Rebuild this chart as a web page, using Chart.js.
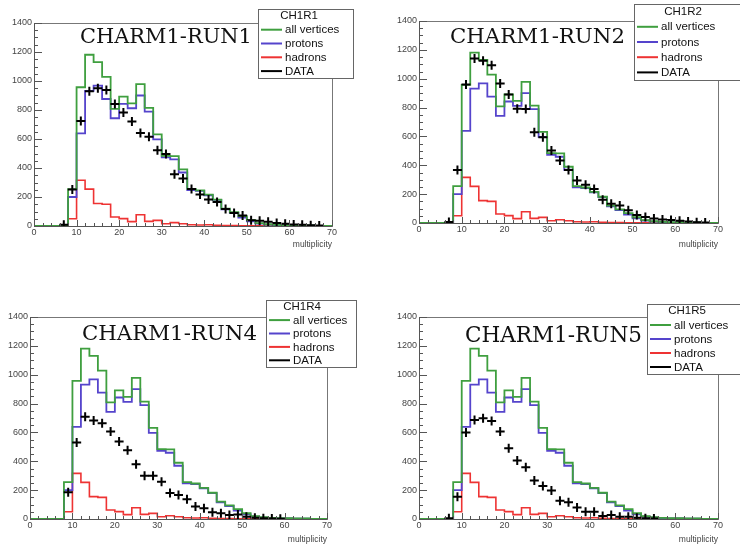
<!DOCTYPE html>
<html>
<head>
<meta charset="utf-8">
<script src="https://cdn.jsdelivr.net/npm/chart.js@4.4.0/dist/chart.umd.min.js"></script>
<style>
  body { margin: 0; background: #fff; }
  #page { position: relative; width: 740px; height: 545px; overflow: hidden; background: #fff; }
  canvas { position: absolute; }
</style>
</head>
<body>
<div id="page">
  <canvas id="c1" width="370" height="250" style="left:0;top:0"></canvas>
  <canvas id="c2" width="370" height="250" style="left:370px;top:0"></canvas>
  <canvas id="c3" width="370" height="250" style="left:0;top:295px"></canvas>
  <canvas id="c4" width="370" height="250" style="left:370px;top:295px"></canvas>
</div>
<script>
// lower edges of the multiplicity bins (width 2)
const binLow = [0, 2, 4, 6, 8, 10, 12, 14, 16, 18, 20, 22, 24, 26, 28, 30, 32, 34,
  36, 38, 40, 42, 44, 46, 48, 50, 52, 54, 56, 58, 60, 62, 64, 66, 68];
const binWidth = 2;

// simulation (same in every panel)
const allVertices = [0, 0, 0, 0, 255, 957, 1181, 1130, 1028, 808, 892, 846, 978, 814, 632, 484, 482, 390,
  256, 246, 216, 182, 120, 95, 68, 40, 20, 12, 8, 6, 6, 4, 4, 0, 0];
const protons = [0, 0, 0, 0, 200, 639, 932, 968, 876, 743, 842, 812, 900, 789, 597, 473, 459, 369,
  247, 242, 212, 180, 115, 90, 58, 32, 16, 10, 6, 4, 4, 3, 3, 0, 0];
const hadrons = [0, 0, 0, 0, 50, 316, 254, 155, 150, 62, 51, 30, 78, 32, 39, 16, 23, 16,
  9, 7, 9, 5, 3, 3, 2, 1, 1, 0, 0, 0, 0, 0, 0, 0, 0];

// measured data per run
const dataRun1 = [null, null, null, 8, 252, 725, 930, 950, 938, 842, 782, 720, 642, 615, 522, 497, 357, 328,
  256, 218, 182, 166, 118, 90, 72, 40, 36, 30, 20, 15, 11, 8, 5, 3, null];
const dataRun2 = [null, null, null, 7, 368, 960, 1140, 1124, 1094, 967, 891, 792, 790, 629, 594, 502, 433, 368,
  295, 265, 235, 161, 134, 122, 88, 55, 41, 32, 25, 20, 15, 10, 6, 3, null];
const dataRun4 = [null, null, null, null, 185, 530, 708, 683, 664, 606, 537, 477, 380, 299, 299, 259, 180, 167,
  137, 86, 74, 46, 39, 28, 32, 16, 9, 5, 3, 2, null, null, null, null, null];
const dataRun5 = [null, null, null, 5, 155, 599, 687, 699, 680, 606, 491, 405, 359, 266, 229, 197, 127, 116,
  79, 51, 51, 21, 28, 16, 16, 9, 5, 3, null, null, null, null, null, null, null];

const xTicks = [0, 10, 20, 30, 40, 50, 60, 70];
const yTicks = [0, 200, 400, 600, 800, 1000, 1200, 1400];
const legendLabels = ["all vertices", "protons", "hadrons", "DATA"];

const COL_ALL = "#3f9f3f";
const COL_PROT = "#5544cc";
const COL_HAD = "#ee3333";
const COL_DATA = "#000000";
const legendColors = [COL_ALL, COL_PROT, COL_HAD, COL_DATA];

function stepPoints(vals) {
  const pts = binLow.map((x, i) => ({ x: x, y: vals[i] }));
  pts.push({ x: binLow[binLow.length - 1] + binWidth, y: 0 });
  return pts;
}
function dataPoints(vals) {
  const pts = [];
  vals.forEach((v, i) => { if (v !== null) pts.push({ x: binLow[i] + binWidth / 2, y: v }); });
  return pts;
}

// ROOT-like frame, inward ticks, big title and boxed legend
const rootStyle = {
  id: "rootStyle",
  afterDraw(chart, args, opts) {
    const ctx = chart.ctx;
    const a = chart.chartArea;
    const xs = chart.scales.x, ys = chart.scales.y;
    ctx.save();
    // frame
    ctx.strokeStyle = "#777";
    ctx.lineWidth = 1;
    ctx.strokeRect(a.left + 0.5, a.top + 0.5, a.right - a.left, a.bottom - a.top);
    // axis lines
    ctx.strokeStyle = "#555";
    ctx.beginPath();
    ctx.moveTo(a.left + 0.5, a.top); ctx.lineTo(a.left + 0.5, a.bottom + 0.5);
    ctx.lineTo(a.right, a.bottom + 0.5);
    ctx.stroke();
    // ticks
    ctx.beginPath();
    for (let v = 0; v <= 70; v += 2) {
      const px = Math.round(xs.getPixelForValue(v)) + 0.5;
      const len = v % 10 === 0 ? 6 : 3;
      ctx.moveTo(px, a.bottom); ctx.lineTo(px, a.bottom - len);
    }
    for (let v = 0; v <= 1400; v += 50) {
      const py = Math.round(ys.getPixelForValue(v)) + 0.5;
      const len = v % 200 === 0 ? 8 : 4;
      ctx.moveTo(a.left, py); ctx.lineTo(a.left + len, py);
    }
    ctx.stroke();

    // title
    ctx.font = "20px 'DejaVu Serif'";
    const w = ctx.measureText(opts.title).width;
    const fs = 20 * opts.titleW / w;
    ctx.font = fs.toFixed(2) + "px 'DejaVu Serif'";
    ctx.fillStyle = "#111";
    ctx.textAlign = "left";
    ctx.textBaseline = "alphabetic";
    ctx.fillText(opts.title, opts.titleX, opts.titleY);

    // legend box
    const b = opts.box;
    ctx.fillStyle = "#fff";
    ctx.fillRect(b.x, b.y, b.w, b.h);
    ctx.strokeStyle = "#666";
    ctx.strokeRect(b.x + 0.5, b.y + 0.5, b.w, b.h);
    const rowH = b.h / 5;
    ctx.font = "11.5px 'Liberation Sans', Arial, sans-serif";
    ctx.fillStyle = "#111";
    ctx.textBaseline = "middle";
    ctx.textAlign = "center";
    ctx.fillText(opts.header, b.x + opts.headerDx, b.y + rowH * 0.5);
    ctx.textAlign = "left";
    legendLabels.forEach((lab, k) => {
      const cy = b.y + rowH * (k + 1.5);
      ctx.strokeStyle = legendColors[k];
      ctx.lineWidth = 2;
      ctx.beginPath();
      ctx.moveTo(b.x + 3, cy); ctx.lineTo(b.x + 24, cy);
      ctx.stroke();
      ctx.fillText(lab, b.x + 27, cy + 0.5);
    });
    ctx.restore();
  }
};

const tickFont = { family: "'Liberation Sans', Arial, sans-serif", size: 9 };

function makePanel(p) {
  const canvas = document.getElementById(p.id);
  return new Chart(canvas, {
    type: "line",
    data: {
      datasets: [
        { label: "DATA", type: "scatter", data: dataPoints(p.data), showLine: false,
          pointStyle: "cross", pointRadius: 4.5, borderColor: COL_DATA, borderWidth: 2, order: 0 },
        { label: "all vertices", data: stepPoints(allVertices), stepped: "before",
          borderColor: COL_ALL, borderWidth: 1.8, pointRadius: 0, fill: false, order: 1 },
        { label: "protons", data: stepPoints(protons), stepped: "before",
          borderColor: COL_PROT, borderWidth: 1.8, pointRadius: 0, fill: false, order: 2 },
        { label: "hadrons", data: stepPoints(hadrons), stepped: "before",
          borderColor: COL_HAD, borderWidth: 1.6, pointRadius: 0, fill: false, order: 3 }
      ]
    },
    options: {
      responsive: false,
      animation: false,
      layout: { padding: { left: 0, right: 370 - p.right, top: p.top, bottom: 250 - p.bottom - p.xH } },
      plugins: {
        legend: { display: false },
        tooltip: { enabled: false },
        rootStyle: p
      },
      scales: {
        x: {
          type: "linear", min: 0, max: 70,
          afterFit: s => { s.height = p.xH; },
          afterBuildTicks: s => { s.ticks = xTicks.map(v => ({ value: v })); },
          ticks: { font: tickFont, color: "#444", padding: 1, maxRotation: 0, callback: v => String(v) },
          grid: { display: false, drawTicks: false },
          border: { display: false },
          title: { display: true, text: "multiplicity", align: "end", color: "#444",
            font: { family: "'Liberation Sans', Arial, sans-serif", size: 8.5 }, padding: 0 }
        },
        y: {
          min: 0, max: 1400,
          afterFit: s => { s.width = p.left; },
          afterBuildTicks: s => { s.ticks = yTicks.map(v => ({ value: v })); },
          ticks: { font: tickFont, color: "#444", padding: 2, callback: v => String(v) },
          grid: { display: false, drawTicks: false },
          border: { display: false }
        }
      }
    },
    plugins: [rootStyle]
  });
}

makePanel({ id: "c1", data: dataRun1, left: 34, right: 332, top: 23, bottom: 226, xH: 24,
  title: "CHARM1-RUN1", titleX: 80, titleY: 43, titleW: 172,
  header: "CH1R1", headerDx: 41, box: { x: 258, y: 9, w: 95, h: 69 } });
makePanel({ id: "c2", data: dataRun2, left: 49, right: 348, top: 21, bottom: 223, xH: 27,
  title: "CHARM1-RUN2", titleX: 80, titleY: 43, titleW: 175,
  header: "CH1R2", headerDx: 49, box: { x: 264, y: 4, w: 115, h: 76 } });
makePanel({ id: "c3", data: dataRun4, left: 30, right: 327, top: 22, bottom: 224, xH: 26,
  title: "CHARM1-RUN4", titleX: 82, titleY: 45, titleW: 175,
  header: "CH1R4", headerDx: 36, box: { x: 266, y: 5, w: 90, h: 67 } });
makePanel({ id: "c4", data: dataRun5, left: 49, right: 348, top: 22, bottom: 224, xH: 26,
  title: "CHARM1-RUN5", titleX: 95, titleY: 47, titleW: 177,
  header: "CH1R5", headerDx: 40, box: { x: 277, y: 9, w: 100, h: 70 } });
</script>
</body>
</html>
